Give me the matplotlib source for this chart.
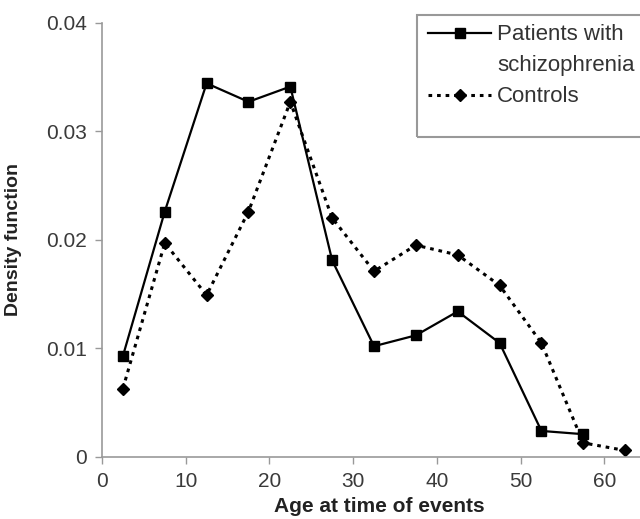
import matplotlib
matplotlib.use("Agg")
import matplotlib.pyplot as plt
from matplotlib.lines import Line2D
from matplotlib.patches import Rectangle

plt.rcParams['font.family'] = ['Liberation Sans', 'DejaVu Sans']

# age bins (mid points)
ages = [2.5, 7.5, 12.5, 17.5, 22.5, 27.5, 32.5, 37.5, 42.5, 47.5, 52.5, 57.5, 62.5]

patients = [0.0093, 0.0226, 0.0344, 0.0327, 0.0341, 0.0181, 0.0102, 0.0112,
            0.0134, 0.0105, 0.0024, 0.0021]
controls = [0.0063, 0.0197, 0.0149, 0.0226, 0.0327, 0.0220, 0.0171, 0.0195,
            0.0186, 0.0158, 0.0105, 0.0013, 0.0006]

xticks = [0, 10, 20, 30, 40, 50, 60]
yticks = [0, 0.01, 0.02, 0.03, 0.04]
ytick_labels = ["0", "0.01", "0.02", "0.03", "0.04"]

fig = plt.figure(figsize=(6.4, 5.19), dpi=100)
ax = fig.add_axes([102 / 640, 62 / 519, 65 * 8.37 / 640, 434.5 / 519])

l1, = ax.plot(ages[:len(patients)], patients, color="black", lw=1.6,
              marker="s", markersize=7.5, clip_on=False)
l2, = ax.plot(ages, controls, color="black", lw=2.2, linestyle=(0, (1.2, 1.6)),
              marker="D", markersize=6, clip_on=False)

ax.set_xlim(0, 65)
ax.set_ylim(0, 0.04)
ax.set_xticks(xticks)
ax.set_yticks(yticks)
ax.set_yticklabels(ytick_labels)

for s in ["top", "right"]:
    ax.spines[s].set_visible(False)
for s in ["left", "bottom"]:
    ax.spines[s].set_color("#999999")
    ax.spines[s].set_linewidth(1.2)

ax.tick_params(axis="both", direction="out", length=5, width=1, color="#999999",
               labelsize=15, labelcolor="#3a3a3a")
ax.tick_params(axis="x", pad=6)
ax.tick_params(axis="y", pad=6)

ax.set_xlabel("Age at time of events", fontsize=15, fontweight="bold", color="#222222")
ax.xaxis.set_label_coords(0.51, -0.093)
ax.set_ylabel("Density function", fontsize=14, fontweight="bold", color="#222222")
ax.yaxis.set_label_coords(-0.147, 0.5)

# legend box
fig.patches.append(Rectangle((417 / 640, 1 - 137 / 519), 0.4, 122 / 519,
                             transform=fig.transFigure, fill=False,
                             edgecolor="#999999", lw=1.5))
blank = Line2D([], [], linestyle="none")
fig.legend([l1, blank, l2], ["Patients with", "schizophrenia", "Controls"],
           loc="upper left", bbox_to_anchor=(424 / 640, 1 - 20 / 519),
           frameon=False, fontsize=16, handlelength=2.8, handletextpad=0.3,
           labelspacing=0.45, borderaxespad=0, borderpad=0.2,
           labelcolor="#333333")

fig.savefig("out.png", dpi=100)
